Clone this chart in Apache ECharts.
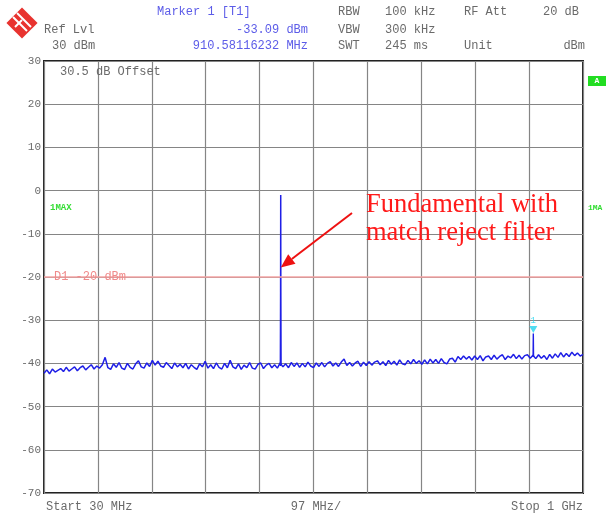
<!DOCTYPE html>
<html><head><meta charset="utf-8">
<script src="https://cdn.jsdelivr.net/npm/echarts@6/dist/echarts.min.js"></script>
<style>html,body{margin:0;padding:0;background:#fff}#c{width:607px;height:516px}</style>
</head><body><div id="c"></div>
<script>
// ---- sweep settings ----
const sweepStart = 30;      // MHz
const sweepStop = 1000;     // MHz
const refLevel = 30;        // dBm
const bottomLevel = -70;    // dBm
const displayLine = -20;    // D1 dBm

// ---- max-hold trace (5 MHz per point, 30 .. 1000 MHz) ----
const traceLevels = [
  -42.3,-41.5,-42.4,-41.3,-42.0,-41.6,-41.2,-41.9,-40.9,-41.8,
  -41.3,-40.8,-41.7,-41.0,-40.6,-41.5,-40.9,-40.3,-41.3,-40.6,
  -41.1,-40.3,-38.6,-41.0,-41.4,-40.1,-40.9,-39.8,-41.1,-41.4,
  -40.0,-40.9,-41.3,-40.1,-39.4,-40.8,-41.1,-39.9,-40.7,-39.3,
  -40.4,-39.5,-40.6,-40.9,-39.8,-40.5,-41.2,-39.9,-40.8,-40.2,
  -41.0,-40.0,-41.3,-40.3,-40.9,-41.4,-40.1,-40.8,-39.5,-41.1,
  -40.3,-41.2,-39.9,-40.9,-41.3,-40.0,-41.0,-39.3,-40.8,-41.2,
  -40.1,-41.4,-40.4,-41.0,-39.8,-41.1,-41.3,-40.2,-39.9,-41.2,
  -40.4,-40.0,-41.0,-40.3,-41.1,-39.9,-40.8,-40.1,-41.0,-39.8,
  -40.7,-39.9,-40.9,-40.0,-40.8,-39.7,-40.6,-41.0,-39.9,-40.7,
  -39.8,-40.8,-40.0,-39.6,-40.6,-39.9,-40.7,-39.7,-39.0,-40.5,
  -39.8,-40.6,-39.9,-39.5,-40.7,-39.7,-40.5,-39.6,-40.4,-39.7,
  -39.4,-40.3,-39.6,-40.5,-39.3,-40.2,-39.5,-40.4,-39.2,-40.1,
  -40.3,-39.3,-40.1,-39.1,-40.0,-39.4,-40.2,-39.2,-40.1,-39.0,
  -39.9,-39.1,-40.0,-38.9,-39.8,-40.1,-39.0,-38.8,-39.7,-38.4,
  -39.1,-38.3,-39.0,-38.4,-39.2,-38.3,-39.1,-38.2,-39.4,-38.5,
  -38.3,-39.1,-38.1,-39.0,-38.4,-38.0,-39.1,-38.3,-38.7,-37.9,
  -38.9,-38.1,-39.0,-38.2,-38.0,-38.8,-38.1,-38.9,-38.0,-38.8,
  -38.2,-39.1,-37.9,-38.8,-37.8,-38.6,-37.5,-38.5,-37.7,-38.4,
  -37.4,-38.2,-37.6,-38.3,-37.9
];

// ---- fundamental spike ----
const fundamentalFreqs  = [455.4, 455.8, 456.0, 456.2, 456.6];
const fundamentalLevels = [-40.6, -23.4, -1.0, -23.4, -40.3];

// ---- 2nd harmonic spike (marker 1) ----
const harmonicFreqs  = [910.2, 910.58116232, 911.0];
const harmonicLevels = [-38.5, -33.09, -38.4];
const markerFreq = 910.58116232;
const markerLevel = -33.09;

// ---- texts ----
const headerLeft = ['Ref Lvl', '30 dBm'];
const headerMarker = ['Marker 1 [T1]', '-33.09 dBm', '910.58116232 MHz'];
const headerSettings = [['RBW','100 kHz','RF Att','20 dB'],['VBW','300 kHz','',''],['SWT','245 ms','Unit','dBm']];
const footer = ['Start 30 MHz', '97 MHz/', 'Stop 1 GHz'];
const annotation = ['Fundamental with', 'match reject filter'];

const step = (sweepStop - sweepStart) / (traceLevels.length - 1);
const traceData = traceLevels.map((v, i) => [sweepStart + i * step, v]);
const fundData = fundamentalFreqs.map((f, i) => [f, fundamentalLevels[i]]);
const harmData = harmonicFreqs.map((f, i) => [f, harmonicLevels[i]]);

const MONO = '"Liberation Mono", "DejaVu Sans Mono", monospace';
const GRAY = '#6a6a6a';
const BLUE = '#5c5ce8';
const TRACE = '#1f1fe6';

const chart = echarts.init(document.getElementById('c'), null, {renderer: 'canvas'});

const option = {
  animation: false,
  backgroundColor: '#fff',
  grid: {left: 44, top: 61, right: 24, bottom: 23, show: true, borderColor: '#222', borderWidth: 2, backgroundColor: 'transparent'},
  xAxis: [
    {type: 'value', min: sweepStart, max: sweepStop, show: false, splitLine: {show: false}},
    {type: 'value', min: 0, max: 10, interval: 1, axisLabel: {show: false}, axisTick: {show: false}, axisLine: {show: false},
     splitLine: {show: true, lineStyle: {color: '#858585', width: 1.2}}}
  ],
  yAxis: {
    type: 'value', min: bottomLevel, max: refLevel, interval: 10,
    axisLine: {show: false}, axisTick: {show: false},
    axisLabel: {color: GRAY, fontFamily: MONO, fontSize: 11, margin: 3},
    splitLine: {show: true, lineStyle: {color: '#858585', width: 1.2}}
  },
  series: [
    {type: 'line', xAxisIndex: 0, data: traceData, symbol: 'none', lineStyle: {color: TRACE, width: 1.5}, z: 3,
     markLine: {silent: true, symbol: 'none', label: {show: false}, lineStyle: {color: '#f5a3a3', width: 1.6, type: 'solid'},
       data: [{yAxis: displayLine}]}},
    {type: 'line', xAxisIndex: 0, data: fundData, symbol: 'none', lineStyle: {color: TRACE, width: 1.5}, z: 4},
    {type: 'line', xAxisIndex: 0, data: harmData, symbol: 'none', lineStyle: {color: TRACE, width: 1.4}, z: 4},
    {type: 'scatter', xAxisIndex: 0, data: [[markerFreq, markerLevel]], symbol: 'triangle', symbolRotate: 180,
     symbolSize: [8, 7], symbolOffset: [0, -4], itemStyle: {color: '#22d3ee'}, z: 5,
     label: {show: true, position: 'top', distance: 1, formatter: '1', color: '#22d3ee', fontSize: 9, fontFamily: MONO}}
  ]
};
chart.setOption(option);

function px(f, v) { return chart.convertToPixel({xAxisIndex: 0, yAxisIndex: 0}, [f, v]); }
function txt(text, x, y, color, align, size, bold) {
  return {type: 'text', z: 10, style: {text: text, x: x, y: y, fill: color, font: (bold ? 'bold ' : '') + (size || 12) + 'px ' + MONO,
    textAlign: align || 'left', textVerticalAlign: 'middle'}};
}

const d1 = px(sweepStart, displayLine);
const tip = px(456, -17.8);
const tail = [352, 213];
const ang = Math.atan2(tip[1] - tail[1], tip[0] - tail[0]);
const ah = 14, aw = 6;
const base = [tip[0] - ah * Math.cos(ang), tip[1] - ah * Math.sin(ang)];
const headPts = [tip,
  [base[0] + aw * Math.sin(ang), base[1] - aw * Math.cos(ang)],
  [base[0] - aw * Math.sin(ang), base[1] + aw * Math.cos(ang)]];
const SERIF = '26.5px "Liberation Serif", "Times New Roman", serif';

const g = [
  // logo
  {type: 'rect', shape: {x: -11, y: -11, width: 22, height: 22}, x: 22, y: 23, rotation: Math.PI / 4, style: {fill: '#e8332f'}, z: 10},
  {type: 'line', shape: {x1: 13, y1: 17, x2: 27, y2: 31}, style: {stroke: '#fff', lineWidth: 2}, z: 11},
  {type: 'line', shape: {x1: 17, y1: 13, x2: 31, y2: 27}, style: {stroke: '#fff', lineWidth: 2}, z: 11},
  {type: 'line', shape: {x1: 15, y1: 27, x2: 22, y2: 20}, style: {stroke: '#fff', lineWidth: 2}, z: 11},
  // header
  txt(headerLeft[0], 44, 30, GRAY, 'left'),
  txt(headerLeft[1], 52, 46, GRAY, 'left'),
  txt(headerMarker[0], 157, 12, BLUE, 'left'),
  txt(headerMarker[1], 308, 30, BLUE, 'right'),
  txt(headerMarker[2], 308, 46, BLUE, 'right'),
  txt(headerSettings[0][0], 338, 12, GRAY), txt(headerSettings[0][1], 385, 12, GRAY),
  txt(headerSettings[0][2], 464, 12, GRAY), txt(headerSettings[0][3], 579, 12, GRAY, 'right'),
  txt(headerSettings[1][0], 338, 30, GRAY), txt(headerSettings[1][1], 385, 30, GRAY),
  txt(headerSettings[2][0], 338, 46, GRAY), txt(headerSettings[2][1], 385, 46, GRAY),
  txt(headerSettings[2][2], 464, 46, GRAY), txt(headerSettings[2][3], 585, 46, GRAY, 'right'),
  // inside plot
  txt('30.5 dB Offset', 60, 72, GRAY),
  txt('D1 -20 dBm', 54, d1[1], '#f08a8a'),
  txt('1MAX', 50, 208, '#33dd33', 'left', 9, true),
  txt('1MA', 588, 208, '#33dd33', 'left', 8, true),
  {type: 'rect', shape: {x: 588, y: 76, width: 18, height: 10}, style: {fill: '#22dd22'}, z: 10},
  txt('A', 597, 81, '#fff', 'center', 8, true),
  // footer
  txt(footer[0], 46, 507, GRAY), txt(footer[1], 316, 507, GRAY, 'center'), txt(footer[2], 583, 507, GRAY, 'right'),
  // annotation
  {type: 'text', z: 10, style: {text: annotation[0], x: 366, y: 205, fill: '#ff1a1a', font: SERIF, textVerticalAlign: 'middle'}},
  {type: 'text', z: 10, style: {text: annotation[1], x: 366, y: 233, fill: '#ff1a1a', font: SERIF, textVerticalAlign: 'middle'}},
  {type: 'line', shape: {x1: tail[0], y1: tail[1], x2: base[0], y2: base[1]}, style: {stroke: '#ee1111', lineWidth: 2}, z: 10},
  {type: 'polygon', shape: {points: headPts}, style: {fill: '#ee1111'}, z: 10}
];
chart.setOption({graphic: g});
</script></body></html>
